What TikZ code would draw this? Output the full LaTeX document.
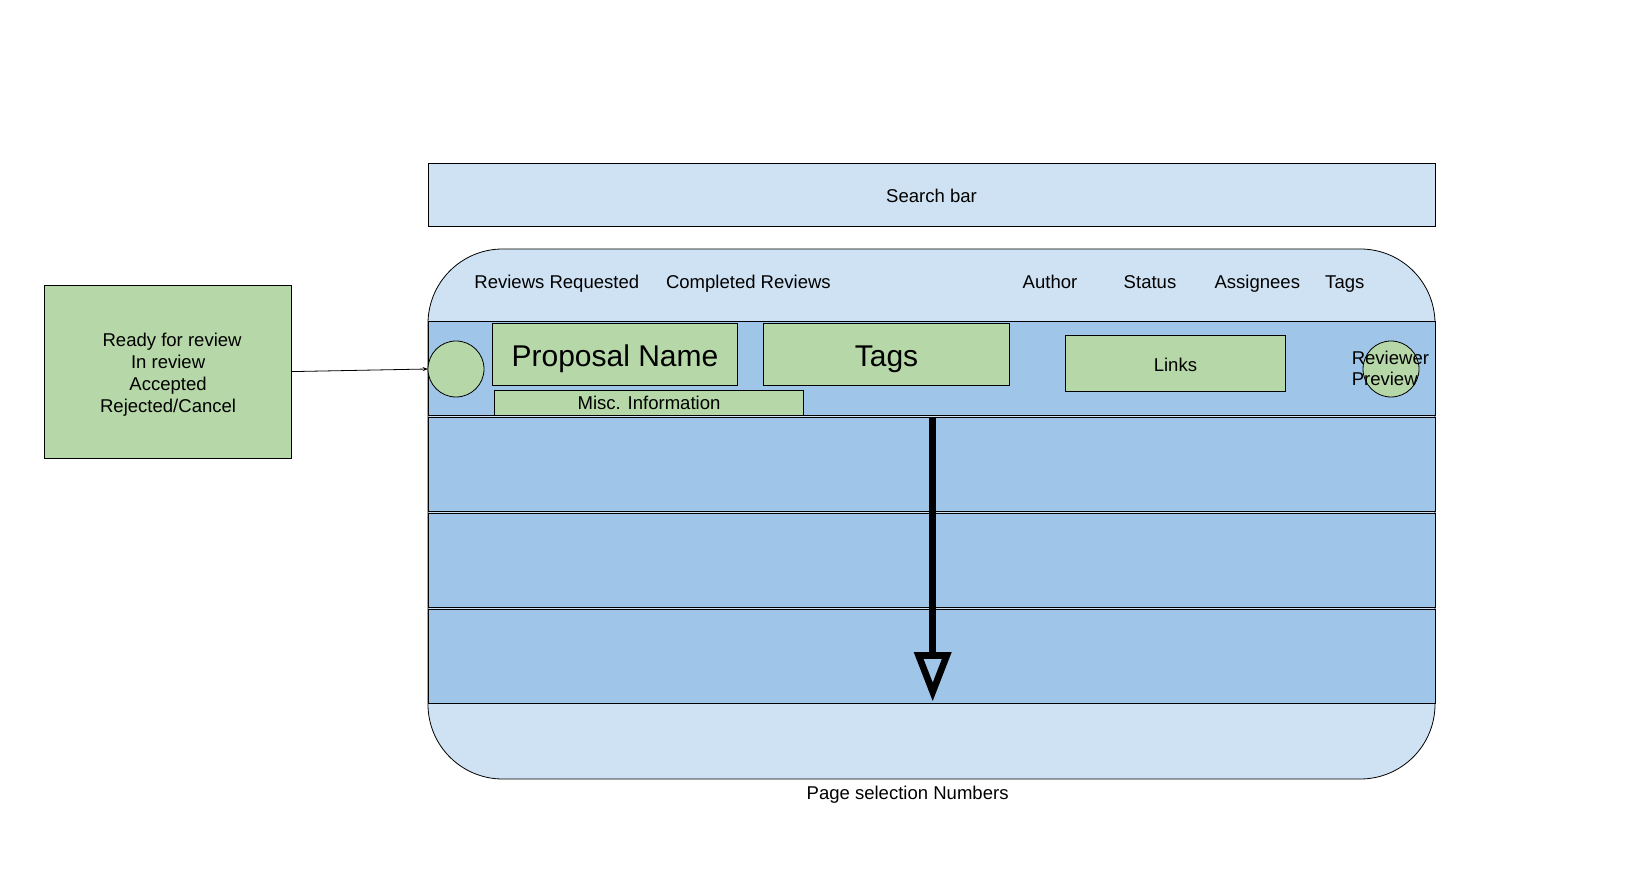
\documentclass[tikz,border=0pt]{standalone}
\usepackage{fontspec}
\setmainfont{Liberation Sans}
\usetikzlibrary{arrows.meta}
\definecolor{lblue}{HTML}{CFE2F3}
\definecolor{mblue}{HTML}{9FC5E8}
\definecolor{lgreen}{HTML}{B6D7A8}
\tikzset{
  base/.style={draw=black, line width=0.6pt, inner sep=0pt, outer sep=0pt},
  rowbox/.style={base, fill=mblue, minimum width=755.25pt, minimum height=70.5pt},
  gbox/.style={base, fill=lgreen, font=\fontsize{13.9pt}{16.4pt}\selectfont, align=center, text height=10pt, text depth=0.3pt},
  dotc/.style={base, fill=lgreen, circle, minimum size=42pt},
  lbl/.style={inner sep=0pt, anchor=base, font=\fontsize{13.9pt}{16.4pt}\selectfont},
  plain/.style={inner sep=0pt, font=\fontsize{13.9pt}{16.4pt}\selectfont},
  big/.style={font=\fontsize{22.5pt}{26pt}\selectfont, text height=18.5pt, text depth=0pt},
  bigarrow/.style={line width=5.5pt, -{Triangle[open, length=37pt, width=27pt, line width=5pt]}},
  thinarrow/.style={line width=0.6pt, -{Stealth[length=4pt, width=3pt]}}
}
\begin{document}
\begin{tikzpicture}[x=0.75pt, y=-0.75pt]
\useasboundingbox (0,0) rectangle (1632,887);
% search bar
\node[base, fill=lblue, minimum width=755.25pt, minimum height=47.25pt] (search) at (931.5,194.5) {};
\node[plain] (searchtxt) at (931.5,196) {Search bar};
% outer frame
\node[base, fill=lblue, rounded corners=56pt, minimum width=755.25pt, minimum height=397.5pt] (frame) at (931.5,514) {};
% header labels
\node[lbl] (h1) at (556.8,288.3) {Reviews Requested};
\node[lbl] (h2) at (748.4,288.3) {Completed Reviews};
\node[lbl] (h3) at (1050,288.3) {Author};
\node[lbl] (h4) at (1150,288.3) {Status};
\node[lbl] (h5) at (1257.3,288.3) {Assignees};
\node[lbl] (h6) at (1344.8,288.3) {Tags};
% rows
\node[rowbox] (row1) at (931.5,368.8) {};
\node[rowbox] (row2) at (931.5,464.5) {};
\node[rowbox] (row3) at (931.5,560.5) {};
\node[rowbox] (row4) at (931.5,656.3) {};
% row 1 content
\node[dotc] (dot) at (456,369) {};
\node[gbox, big, minimum width=184pt, minimum height=46.5pt] (prop) at (615,354) {Proposal Name};
\node[gbox, big, minimum width=184.7pt, minimum height=46.5pt] (tags) at (886.5,354) {Tags};
\node[gbox, minimum width=232pt, minimum height=18.9pt] (misc) at (649,403) {Misc. Information};
\node[gbox, minimum width=165.5pt, minimum height=41.5pt, text height=12.7pt, text depth=0pt] (links) at (1175.4,363.4) {Links};
\node[dotc] (rdot) at (1391,369) {};
\node[plain, anchor=west, align=left, font=\fontsize{13.9pt}{15.75pt}\selectfont] (rtxt) at (1351.5,368) {Reviewer\\Preview};
% status box
\node[base, fill=lgreen, minimum width=185pt, minimum height=129.6pt] (status) at (168.1,371.6) {};
\node[plain, align=center] (statustxt) at (168.1,374.5) {\hspace*{6pt}Ready for review\\In review\\Accepted\\Rejected/Cancel};
\draw[thinarrow] (status.east) -- (dot.west);
% scroll arrow
\coordinate (as) at (932.7,417);
\coordinate (ae) at (932.7,701.5);
\draw[bigarrow] (as) -- (ae);
% page selection
\node[plain] (pages) at (907.6,795) {Page selection Numbers};
\end{tikzpicture}
\end{document}
